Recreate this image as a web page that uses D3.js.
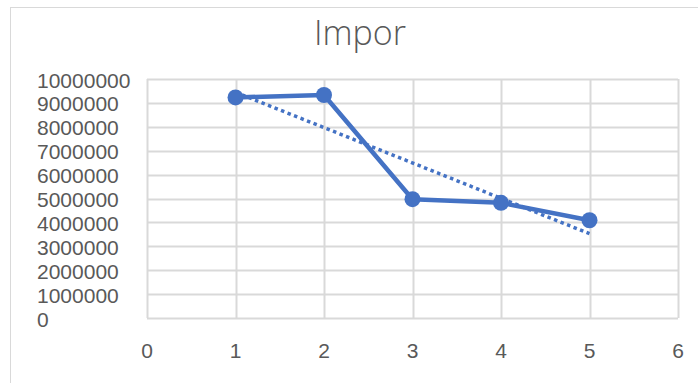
<!DOCTYPE html>
<html>
<head>
<meta charset="utf-8">
<script src="https://cdn.jsdelivr.net/npm/d3@7"></script>
<style>
  html, body { margin: 0; padding: 0; background: #fff; }
  svg { display: block; }
  text { font-family: "Liberation Sans", Arial, sans-serif; fill: #595959; }
</style>
</head>
<body>
<svg id="chart" width="698" height="383"></svg>
<script>
// Import volume per period
const title = "Impor";
const periods = [1, 2, 3, 4, 5];
const imports = [9230000, 9330000, 4970000, 4820000, 4090000];
const yTicks = [0, 1000000, 2000000, 3000000, 4000000, 5000000, 6000000, 7000000, 8000000, 9000000, 10000000];
const xTicks = [0, 1, 2, 3, 4, 5, 6];

const svg = d3.select("#chart");
const W = 698, H = 383;
const plot = { left: 147, top: 79, right: 678, bottom: 318 };
const blue = "#4472C4";
const grid = "#d9d9d9";

// chart area frame
svg.append("rect")
  .attr("x", 10.5).attr("y", 7.5)
  .attr("width", W + 10).attr("height", H + 10)
  .attr("fill", "#fff").attr("stroke", grid).attr("stroke-width", 1);

const x = d3.scaleLinear().domain([0, 6]).range([plot.left, plot.right]);
const y = d3.scaleLinear().domain([0, 10000000]).range([plot.bottom, plot.top]);

// gridlines
const g = svg.append("g");
g.selectAll("line.h").data(yTicks).join("line")
  .attr("x1", plot.left).attr("x2", plot.right)
  .attr("y1", d => Math.round(y(d)) + 0.5).attr("y2", d => Math.round(y(d)) + 0.5)
  .attr("stroke", grid).attr("stroke-width", 2);
g.selectAll("line.v").data(xTicks).join("line")
  .attr("y1", plot.top).attr("y2", plot.bottom)
  .attr("x1", d => Math.round(x(d)) + 0.5).attr("x2", d => Math.round(x(d)) + 0.5)
  .attr("stroke", grid).attr("stroke-width", 2);

// y labels (left aligned)
svg.append("g").selectAll("text").data(yTicks).join("text")
  .attr("x", 37).attr("y", d => y(d) + 1)
  .attr("dy", "0.36em")
  .attr("font-size", 21)
  .attr("text-anchor", "start")
  .text(d => d3.format("d")(d));

// x labels
svg.append("g").selectAll("text").data(xTicks).join("text")
  .attr("x", d => x(d)).attr("y", 350)
  .attr("dy", "0.36em")
  .attr("font-size", 21)
  .attr("text-anchor", "middle")
  .text(d => d);

// title
svg.append("text")
  .attr("x", 360).attr("y", 33)
  .attr("dy", "0.36em")
  .attr("text-anchor", "middle")
  .attr("font-size", 34)
  .style("font-family", "'Open Sans', 'Liberation Sans', sans-serif")
  .style("font-weight", 300)
  .text(title);

// linear trendline (least squares)
const n = periods.length;
const mx = d3.mean(periods), my = d3.mean(imports);
const slope = d3.sum(periods, (p, i) => (p - mx) * (imports[i] - my)) / d3.sum(periods, p => (p - mx) ** 2);
const icpt = my - slope * mx;
const trend = [periods[0], periods[n - 1]].map(p => [p, icpt + slope * p]);

svg.append("path")
  .datum(trend)
  .attr("d", d3.line().x(d => x(d[0])).y(d => y(d[1])))
  .attr("fill", "none").attr("stroke", blue)
  .attr("stroke-width", 3.5)
  .attr("stroke-dasharray", "3.5,3.5");

// series line
const pts = periods.map((p, i) => [p, imports[i]]);
svg.append("path")
  .datum(pts)
  .attr("d", d3.line().x(d => x(d[0])).y(d => y(d[1])))
  .attr("fill", "none").attr("stroke", blue)
  .attr("stroke-width", 4.5).attr("stroke-linejoin", "round");

svg.append("g").selectAll("circle").data(pts).join("circle")
  .attr("cx", d => x(d[0])).attr("cy", d => y(d[1]))
  .attr("r", 8).attr("fill", blue);
</script>
</body>
</html>
